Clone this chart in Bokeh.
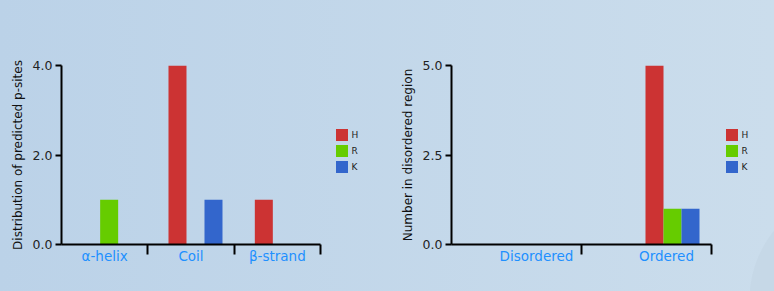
from bokeh.plotting import figure
from bokeh.models import (ColumnDataSource, FixedTicker, PrintfTickFormatter,
                          Legend, LegendItem, Range1d)
from bokeh.layouts import row
from bokeh.embed import file_html
from bokeh.resources import INLINE

# ---------------- data ----------------
series = ["H", "R", "K"]
colors = ["#CC3333", "#66CC00", "#3366CC"]

left_categories = ["α-helix", "Coil", "β-strand"]
left_H = [0, 4, 1]
left_R = [1, 0, 0]
left_K = [0, 1, 0]
left_yticks = [0, 2, 4]
left_ylabel = "Distribution of predicted p-sites"

right_categories = ["Disordered", "Ordered"]
right_H = [0, 5]
right_R = [0, 1]
right_K = [0, 1]
right_yticks = [0, 2.5, 5]
right_ylabel = "Number in disordered region"

FONT = "DejaVu Sans"
H = 291


def make_panel(categories, values, yticks, ylabel, border_left, frame_w,
               group_shift, label_shift, bar_px):
    n = len(categories)
    unit = frame_w / n
    bw = bar_px / unit
    p = figure(width=border_left + frame_w + 2, height=H, output_backend="svg",
               toolbar_location=None,
               x_range=Range1d(0, n), y_range=Range1d(0, max(yticks)),
               min_border_left=border_left, min_border_right=2,
               min_border_top=65, min_border_bottom=47)
    p.background_fill_color = None
    p.border_fill_color = None
    p.outline_line_color = None
    p.grid.visible = False

    for j, (name, vals) in enumerate(zip(series, values)):
        xs = [i + 0.5 + group_shift + (j - 1) * bw for i in range(n)]
        src = ColumnDataSource(dict(x=xs, top=vals))
        p.vbar(x="x", top="top", bottom=0, width=bw, source=src,
               fill_color=colors[j], line_color=None)

    # x axis: labels at major ticks, separators as minor ticks
    label_pos = [i + 0.5 + label_shift for i in range(n)]
    xa = p.xaxis[0]
    xa.ticker = FixedTicker(ticks=label_pos, minor_ticks=[i + 1 for i in range(n)])
    xa.major_label_overrides = {pos: c for pos, c in zip(label_pos, categories)}
    xa.major_tick_out = 0
    xa.major_tick_in = 0
    xa.minor_tick_out = 10
    xa.minor_tick_in = 0
    xa.minor_tick_line_width = 2
    xa.minor_tick_line_color = "black"
    xa.axis_line_width = 2
    xa.axis_line_color = "black"
    xa.major_label_text_font = FONT
    xa.major_label_text_font_size = "13.5px"
    xa.major_label_text_color = "#1E90FF"
    xa.major_label_standoff = -7

    ya = p.yaxis[0]
    ya.ticker = FixedTicker(ticks=yticks)
    ya.formatter = PrintfTickFormatter(format="%.1f")
    ya.major_tick_out = 6
    ya.major_tick_in = 0
    ya.major_tick_line_width = 2
    ya.minor_tick_line_color = None
    ya.axis_line_width = 2
    ya.axis_line_color = "black"
    ya.major_label_text_font = FONT
    ya.major_label_text_font_size = "12.5px"
    ya.major_label_text_color = "#222222"
    ya.major_label_standoff = 3
    ya.axis_label = ylabel
    ya.axis_label_text_font = FONT
    ya.axis_label_text_font_size = "12px"
    ya.axis_label_text_font_style = "normal"
    ya.axis_label_text_color = "#111111"
    ya.axis_label_standoff = 5
    return p


def make_legend(width, offset_x):
    lf = figure(width=width, height=H, output_backend="svg", toolbar_location=None,
                x_range=Range1d(0, 1), y_range=Range1d(0, 1),
                min_border=0, x_axis_location=None, y_axis_location=None)
    lf.background_fill_color = None
    lf.border_fill_color = None
    lf.outline_line_color = None
    lf.grid.visible = False
    items = []
    for s, c in zip(series, colors):
        # zero-height placeholder bar: only its style is used by the legend swatch
        r = lf.vbar(x=[0], top=[0], bottom=0, width=0.1, fill_color=c, line_color=None)
        items.append(LegendItem(label=s, renderers=[r]))
    legend = Legend(items=items, location=(offset_x, 70), margin=0, padding=0,
                    spacing=1, glyph_width=15, glyph_height=15, label_height=15,
                    label_width=8, label_standoff=3, label_text_font=FONT,
                    label_text_font_size="9px", label_text_color="#222222",
                    border_line_color=None, background_fill_color=None)
    lf.add_layout(legend, "center")
    return lf


p1 = make_panel(left_categories, [left_H, left_R, left_K], left_yticks, left_ylabel,
                61, 259, 0.052, 0.0, 18)
l1 = make_legend(387 - p1.width, 333.5 - (61 + 259 + 2))
p2 = make_panel(right_categories, [right_H, right_R, right_K], right_yticks, right_ylabel,
                64, 260, 0.2, 20 / 130, 18)
l2 = make_legend(774 - 387 - p2.width, 723.5 - (387 + 64 + 260 + 2))

layout = row(p1, l1, p2, l2, width=774, height=H, styles={
    "background": "radial-gradient(circle at 860px 300px, #C6D8E7 0, #C6D8E7 110px, transparent 111px), "
                  "linear-gradient(to right, #BBD2E8, #CBDDEC)"})

open("out.html", "w").write(file_html(layout, INLINE))
